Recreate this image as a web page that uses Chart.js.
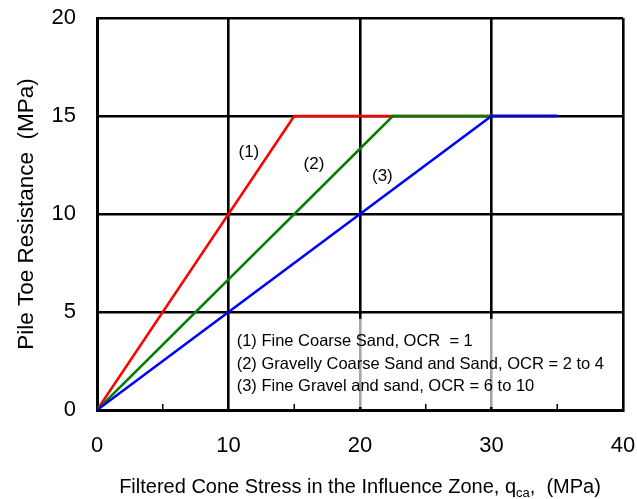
<!DOCTYPE html>
<html>
<head>
<meta charset="utf-8">
<script src="https://cdn.jsdelivr.net/npm/chart.js@4.4.1/dist/chart.umd.min.js"></script>
<style>
body { margin: 0; background: #fff; }
#wrap { width: 637px; height: 499px; }
</style>
</head>
<body>
<div id="wrap"><canvas id="myChart" width="637" height="499"></canvas></div>
<script>
// curvas: qca (MPa) contra resistencia de punta (MPa)
const redX = [0, 15, 35];
const redY = [0, 15, 15];
const greenX = [0, 22.5, 35];
const greenY = [0, 15, 15];
const blueX = [0, 30, 35];
const blueY = [0, 15, 15];

// etiquetas (1) (2) (3) junto a cada curva
const curveLabels = ['(1)', '(2)', '(3)'];
const curveLabelX = [11.55, 16.5, 21.7];
const curveLabelY = [13.15, 12.55, 11.9];

// texto explicativo dentro del grafico
const noteLines = [
    '(1) Fine Coarse Sand, OCR  = 1',
    '(2) Gravelly Coarse Sand and Sand, OCR = 2 to 4',
    '(3) Fine Gravel and sand, OCR = 6 to 10'
];
const noteX = 10.62;
const noteY = [3.49, 2.33, 1.19];

const xTicks = [0, 10, 20, 30, 40];
const yTicks = [0, 5, 10, 15, 20];
const xMinorTicks = [5, 15, 25, 35];

const FONT = "'Liberation Sans', Arial, sans-serif";

function toPoints(xs, ys) {
    return xs.map((x, i) => ({ x: x, y: ys[i] }));
}

// dibuja textos, titulos y marcas menores
const extras = {
    id: 'extras',
    beforeDatasetsDraw(chart) {
        const ctx = chart.ctx;
        const xs = chart.scales.x;
        const ys = chart.scales.y;
        // caja semitransparente del texto (aclara la grilla detras)
        const left = xs.getPixelForValue(10.3);
        const right = xs.getPixelForValue(37);
        const top = ys.getPixelForValue(4.65);
        const bottom = ys.getPixelForValue(0) - 3;
        ctx.save();
        ctx.fillStyle = 'rgba(255,255,255,0.65)';
        ctx.fillRect(left, top, right - left, bottom - top);
        // marcas menores en el eje x
        ctx.strokeStyle = '#000';
        ctx.lineWidth = 1.5;
        const y0 = ys.getPixelForValue(0);
        xMinorTicks.forEach(v => {
            const px = xs.getPixelForValue(v);
            ctx.beginPath();
            ctx.moveTo(px, y0);
            ctx.lineTo(px, y0 - 6);
            ctx.stroke();
        });
        ctx.restore();
    },
    afterDatasetsDraw(chart) {
        const ctx = chart.ctx;
        const xs = chart.scales.x;
        const ys = chart.scales.y;
        ctx.save();
        ctx.fillStyle = '#000';
        ctx.font = '17px ' + FONT;
        ctx.textAlign = 'center';
        ctx.textBaseline = 'middle';
        curveLabels.forEach((t, i) => {
            ctx.fillText(t, xs.getPixelForValue(curveLabelX[i]), ys.getPixelForValue(curveLabelY[i]));
        });
        ctx.font = '16.5px ' + FONT;
        ctx.textAlign = 'left';
        noteLines.forEach((t, i) => {
            ctx.fillText(t, xs.getPixelForValue(noteX), ys.getPixelForValue(noteY[i]));
        });
        ctx.restore();
    },
    afterDraw(chart) {
        const ctx = chart.ctx;
        const area = chart.chartArea;
        ctx.save();
        ctx.fillStyle = '#000';
        // titulo eje y
        ctx.font = '22.5px ' + FONT;
        ctx.translate(33, (area.top + area.bottom) / 2);
        ctx.rotate(-Math.PI / 2);
        ctx.textAlign = 'center';
        ctx.textBaseline = 'alphabetic';
        ctx.fillText('Pile Toe Resistance  (MPa)', 0, 0);
        ctx.restore();

        // titulo eje x con subindice
        ctx.save();
        ctx.fillStyle = '#000';
        ctx.textBaseline = 'alphabetic';
        ctx.textAlign = 'left';
        const a = 'Filtered Cone Stress in the Influence Zone, q';
        const sub = 'ca';
        const b = ',  (MPa)';
        const big = '20px ' + FONT;
        const small = '13px ' + FONT;
        ctx.font = big;
        const wa = ctx.measureText(a).width;
        const wb = ctx.measureText(b).width;
        ctx.font = small;
        const ws = ctx.measureText(sub).width;
        let x = (area.left + area.right) / 2 - (wa + ws + wb) / 2;
        const base = 493;
        ctx.font = big;
        ctx.fillText(a, x, base);
        x += wa;
        ctx.font = small;
        ctx.fillText(sub, x, base + 4);
        x += ws;
        ctx.font = big;
        ctx.fillText(b, x, base);
        ctx.restore();
    }
};

const config = {
    type: 'scatter',
    data: {
        datasets: [
            { data: toPoints(redX, redY), borderColor: '#ff0000', order: 3 },
            { data: toPoints(greenX, greenY), borderColor: '#008000', order: 2 },
            { data: toPoints(blueX, blueY), borderColor: '#0000ff', order: 1 }
        ]
    },
    options: {
        responsive: false,
        animation: false,
        events: [],
        showLine: true,
        elements: {
            point: { radius: 0 },
            line: { borderWidth: 2.6, tension: 0 }
        },
        layout: { padding: { left: 0, top: 18, right: 14, bottom: 0 } },
        plugins: { legend: { display: false }, tooltip: { enabled: false } },
        scales: {
            x: {
                type: 'linear',
                min: 0,
                max: 40,
                afterBuildTicks: s => { s.ticks = xTicks.map(v => ({ value: v })); },
                afterFit: s => { s.height = 89; s.paddingLeft = 0; s.paddingRight = 0; },
                grid: { color: '#000', lineWidth: 2.6, drawTicks: false },
                border: { color: '#000', width: 3 },
                ticks: { color: '#000', font: { family: FONT, size: 22 }, padding: 23, maxRotation: 0 }
            },
            y: {
                type: 'linear',
                min: 0,
                max: 20,
                afterBuildTicks: s => { s.ticks = yTicks.map(v => ({ value: v })); },
                afterFit: s => { s.width = 97; s.paddingTop = 0; s.paddingBottom = 0; },
                grid: { color: '#000', lineWidth: 2.6, drawTicks: false },
                border: { color: '#000', width: 3 },
                ticks: { color: '#000', font: { family: FONT, size: 22 }, padding: 21 }
            }
        }
    },
    plugins: [extras]
};

const chartDOM = document.getElementById('myChart');
window.grafica = new Chart(chartDOM, config);
</script>
</body>
</html>
